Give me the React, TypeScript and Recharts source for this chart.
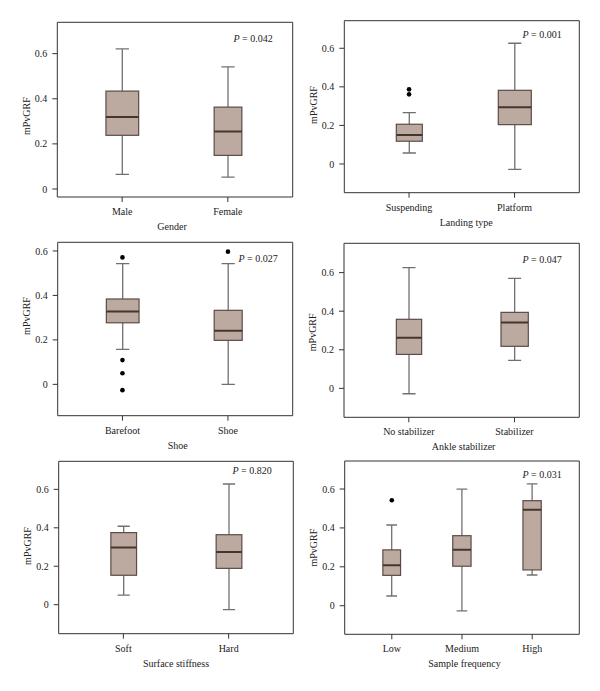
import React from "react";
import { ComposedChart, Bar, Line, XAxis, YAxis, Label } from "recharts";

const FONT = "'Liberation Serif', 'Times New Roman', serif";
const FILL = "#bcaaa1";
const EDGE = "#5c4b47";
const MED = "#45352f";
const WHISK = "#707070";
const FRAME = "#333333";

// Gender
const genderCats = ["Male", "Female"];
const genderLo = [0.065, 0.053];
const genderQ1 = [0.238, 0.149];
const genderMed = [0.319, 0.255];
const genderQ3 = [0.434, 0.363];
const genderHi = [0.621, 0.541];
const genderOut: number[][] = [[], []];

// Landing type
const landingCats = ["Suspending", "Platform"];
const landingLo = [0.057, -0.028];
const landingQ1 = [0.118, 0.204];
const landingMed = [0.15, 0.294];
const landingQ3 = [0.206, 0.382];
const landingHi = [0.266, 0.626];
const landingOut: number[][] = [[0.387, 0.361], []];

// Shoe
const shoeCats = ["Barefoot", "Shoe"];
const shoeLo = [0.157, 0.0];
const shoeQ1 = [0.277, 0.198];
const shoeMed = [0.328, 0.241];
const shoeQ3 = [0.384, 0.333];
const shoeHi = [0.543, 0.543];
const shoeOut: number[][] = [[0.571, 0.109, 0.05, -0.026], [0.597]];

// Ankle stabilizer
const ankleCats = ["No stabilizer", "Stabilizer"];
const ankleLo = [-0.028, 0.145];
const ankleQ1 = [0.176, 0.218];
const ankleMed = [0.262, 0.342];
const ankleQ3 = [0.358, 0.394];
const ankleHi = [0.626, 0.57];
const ankleOut: number[][] = [[], []];

// Surface stiffness
const surfaceCats = ["Soft", "Hard"];
const surfaceLo = [0.05, -0.026];
const surfaceQ1 = [0.153, 0.189];
const surfaceMed = [0.297, 0.274];
const surfaceQ3 = [0.375, 0.364];
const surfaceHi = [0.408, 0.628];
const surfaceOut: number[][] = [[], []];

// Sample frequency
const freqCats = ["Low", "Medium", "High"];
const freqLo = [0.05, -0.027, 0.158];
const freqQ1 = [0.156, 0.203, 0.184];
const freqMed = [0.208, 0.288, 0.494];
const freqQ3 = [0.287, 0.36, 0.54];
const freqHi = [0.415, 0.599, 0.626];
const freqOut: number[][] = [[0.542], [], []];

const yTicks = [0, 0.2, 0.4, 0.6];

const buildRows = (
  cats: string[],
  lo: number[],
  q1: number[],
  med: number[],
  q3: number[],
  hi: number[],
  out: number[][]
) =>
  cats.map((name, i) => {
    const row: any = { name, lo: lo[i], q1: q1[i], med: med[i], q3: q3[i], hi: hi[i] };
    out[i].forEach((v, j) => {
      row["o" + j] = v;
    });
    return row;
  });

const panels = [
  {
    cats: genderCats,
    rows: buildRows(genderCats, genderLo, genderQ1, genderMed, genderQ3, genderHi, genderOut),
    nOut: 0,
    title: "Gender",
    p: "0.042",
    left: 0, top: 0, h: 245,
    frame: { l: 57.3, t: 22.3, r: 292.7, b: 197 },
    domain: [-0.0355, 0.739],
    boxW: [32.7, 27.7], cap: 13.3,
    pRight: 20, pDy: 16, yDy: 6.5, tDx: -3,
  },
  {
    cats: landingCats,
    rows: buildRows(landingCats, landingLo, landingQ1, landingMed, landingQ3, landingHi, landingOut),
    nOut: 2,
    title: "Landing type",
    p: "0.001",
    left: 300, top: 0, h: 245,
    frame: { l: 344.3, t: 20.7, r: 579.3, b: 192.7 },
    domain: [-0.149, 0.743],
    boxW: [26, 33], cap: 13.2,
    pRight: 17.6, pDy: 13.6, yDy: -1.7, tDx: 4.5,
  },
  {
    cats: shoeCats,
    rows: buildRows(shoeCats, shoeLo, shoeQ1, shoeMed, shoeQ3, shoeHi, shoeOut),
    nOut: 4,
    title: "Shoe",
    p: "0.027",
    left: 0, top: 228, h: 245,
    frame: { l: 57.7, t: 242.3, r: 292.7, b: 415.7 },
    domain: [-0.141, 0.639],
    boxW: [32.7, 28], cap: 13.3,
    pRight: 15, pDy: 16, yDy: -13, tDx: 2.5,
  },
  {
    cats: ankleCats,
    rows: buildRows(ankleCats, ankleLo, ankleQ1, ankleMed, ankleQ3, ankleHi, ankleOut),
    nOut: 0,
    title: "Ankle stabilizer",
    p: "0.047",
    left: 300, top: 228, h: 245,
    frame: { l: 344, t: 243.3, r: 579.3, b: 417.3 },
    domain: [-0.15, 0.752],
    boxW: [25.3, 27.3], cap: 13,
    pRight: 17.6, pDy: 15.7, yDy: 2, tDx: 2,
  },
  {
    cats: surfaceCats,
    rows: buildRows(surfaceCats, surfaceLo, surfaceQ1, surfaceMed, surfaceQ3, surfaceHi, surfaceOut),
    nOut: 0,
    title: "Surface stiffness",
    p: "0.820",
    left: 0, top: 455, h: 236,
    frame: { l: 58.7, t: 461.3, r: 293.3, b: 633.7 },
    domain: [-0.151, 0.746],
    boxW: [25.7, 25.7], cap: 12.2,
    pRight: 21.6, pDy: 9.4, yDy: -1.5, tDx: 0,
  },
  {
    cats: freqCats,
    rows: buildRows(freqCats, freqLo, freqQ1, freqMed, freqQ3, freqHi, freqOut),
    nOut: 1,
    title: "Sample frequency",
    p: "0.031",
    left: 300, top: 455, h: 236,
    frame: { l: 344.7, t: 461, r: 579.3, b: 634.3 },
    domain: [-0.147, 0.744],
    boxW: [17.7, 18.3, 18.3], cap: 10.7,
    pRight: 17.6, pDy: 13, yDy: 0, tDx: 2.5,
  },
];

const makeBox = (cats: string[], widths: number[], cap: number) => (props: any) => {
  const { x, y, width, height, payload } = props;
  if (!payload || height == null) return null;
  const span = payload.hi - payload.lo;
  const py = (v: number) => y + ((payload.hi - v) / span) * height;
  const cx = x + width / 2;
  const w = widths[cats.indexOf(payload.name)] || width;
  const yHi = py(payload.hi);
  const yQ3 = py(payload.q3);
  const yMed = py(payload.med);
  const yQ1 = py(payload.q1);
  const yLo = py(payload.lo);
  return (
    <g>
      <line x1={cx} x2={cx} y1={yHi} y2={yQ3} stroke={WHISK} strokeWidth={1.3} />
      <line x1={cx} x2={cx} y1={yQ1} y2={yLo} stroke={WHISK} strokeWidth={1.3} />
      <line x1={cx - cap / 2} x2={cx + cap / 2} y1={yHi} y2={yHi} stroke={WHISK} strokeWidth={1.3} />
      <line x1={cx - cap / 2} x2={cx + cap / 2} y1={yLo} y2={yLo} stroke={WHISK} strokeWidth={1.3} />
      <rect x={cx - w / 2} y={yQ3} width={w} height={yQ1 - yQ3} fill={FILL} stroke={EDGE} strokeWidth={1.2} />
      <line x1={cx - w / 2} x2={cx + w / 2} y1={yMed} y2={yMed} stroke={MED} strokeWidth={2} />
    </g>
  );
};

const txt = { fontSize: 10, fontFamily: FONT, fill: "#222" };

const Panel = ({ cfg }: { cfg: any }) => {
  const f = cfg.frame;
  // the top and right frame axes take 1px each
  const marginTop = f.t - cfg.top - 1;
  const yW = f.l - cfg.left;
  const marginRight = cfg.left + 300 - f.r - 1;
  const xH = cfg.top + cfg.h - f.b;
  const outKeys = Array.from({ length: cfg.nOut }, (_, j) => "o" + j);
  return (
    <div style={{ position: "absolute", left: cfg.left, top: cfg.top }}>
      <ComposedChart
        width={300}
        height={cfg.h}
        data={cfg.rows}
        margin={{ top: marginTop, right: marginRight, left: 0, bottom: 0 }}
      >
        <XAxis
          dataKey="name"
          type="category"
          interval={0}
          padding={{ left: 12, right: 12 }}
          height={xH}
          tickSize={5}
          tickMargin={6}
          stroke={FRAME}
          tick={txt}
        >
          <Label
            content={(p: any) => (
              <text
                x={p.viewBox.x + p.viewBox.width / 2 + cfg.tDx}
                y={p.viewBox.y + 33}
                textAnchor="middle"
                {...txt}
              >
                {cfg.title}
              </text>
            )}
          />
        </XAxis>
        <XAxis xAxisId="top" dataKey="name" orientation="top" height={1} tick={false} tickLine={false} stroke={FRAME}>
          <Label
            content={(p: any) => (
              <text
                x={p.viewBox.x + p.viewBox.width - cfg.pRight}
                y={p.viewBox.y + p.viewBox.height + cfg.pDy + 3.5}
                textAnchor="end"
                {...txt}
              >
                <tspan fontStyle="italic">P</tspan>
                {" = " + cfg.p}
              </text>
            )}
          />
        </XAxis>
        <YAxis
          type="number"
          domain={cfg.domain}
          allowDataOverflow
          ticks={yTicks}
          width={yW}
          tickSize={5}
          tickMargin={5}
          stroke={FRAME}
          tick={txt}
          tickFormatter={(v: number) => (v === 0 ? "0" : v.toFixed(1))}
        >
          <Label
            content={(p: any) => {
              const lx = p.viewBox.x + p.viewBox.width - 27.5;
              const ly = p.viewBox.y + p.viewBox.height / 2 + cfg.yDy;
              return (
                <text x={lx} y={ly} textAnchor="middle" transform={`rotate(-90 ${lx} ${ly})`} {...txt}>
                  mPvGRF
                </text>
              );
            }}
          />
        </YAxis>
        <YAxis
          yAxisId="right"
          orientation="right"
          type="number"
          domain={cfg.domain}
          width={1}
          tick={false}
          tickLine={false}
          stroke={FRAME}
        />
        <Bar
          dataKey={(d: any) => [d.lo, d.hi]}
          barSize={40}
          isAnimationActive={false}
          shape={makeBox(cfg.cats, cfg.boxW, cfg.cap)}
        />
        {/* invisible series so the top/right frame axes get a domain */}
        <Line
          xAxisId="top"
          yAxisId="right"
          dataKey="med"
          stroke="none"
          dot={false}
          activeDot={false}
          legendType="none"
          isAnimationActive={false}
        />
        {outKeys.map((k) => (
          <Line
            key={k}
            dataKey={k}
            stroke="none"
            dot={{ r: 2.3, fill: "#000", stroke: "none" }}
            activeDot={false}
            legendType="none"
            isAnimationActive={false}
          />
        ))}
      </ComposedChart>
    </div>
  );
}

export default function App() {
  return (
    <div style={{ position: "absolute", left: 0, top: 0, width: 600, height: 691, background: "#fff" }}>
      {panels.map((cfg) => (
        <Panel key={cfg.title} cfg={cfg} />
      ))}
    </div>
  );
}
